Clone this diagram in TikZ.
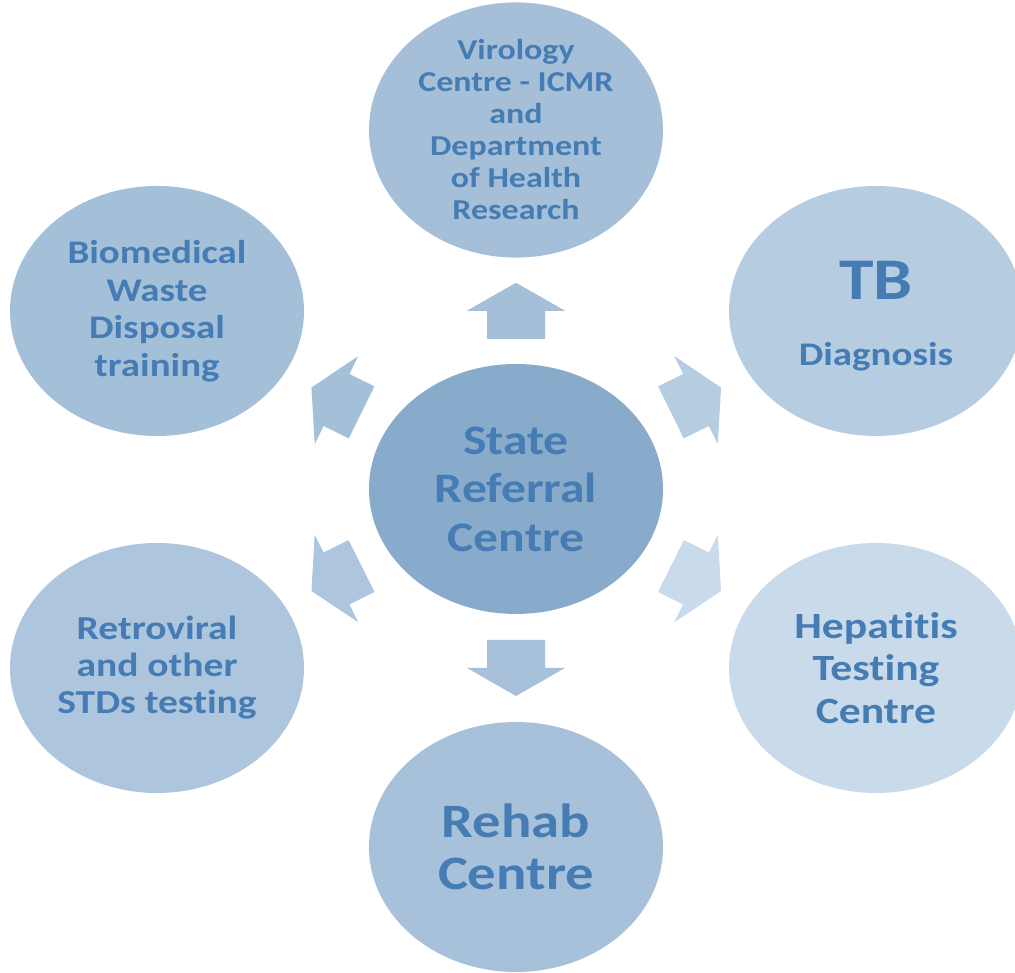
\documentclass[tikz,border=0pt]{standalone}
\usepackage{fontspec}
\setmainfont{Carlito}[FakeStretch=1.18, RawFeature={-liga;-clig;-calt;-dlig}]
\usetikzlibrary{shapes.geometric}

\definecolor{txtblue}{RGB}{70,124,180}
\definecolor{hubblue}{RGB}{136,170,203}
\definecolor{virblue}{RGB}{165,191,216}
\definecolor{tbblue}{RGB}{182,204,225}
\definecolor{hepblue}{RGB}{201,218,234}
\definecolor{rehabblue}{RGB}{168,193,218}
\definecolor{retroblue}{RGB}{173,198,221}
\definecolor{bioblue}{RGB}{164,191,216}

\tikzset{
  bubble/.style={ellipse, minimum width=294pt, minimum height=250pt, inner sep=0pt,
    text=txtblue, align=center},
  blockarr/.pic={\fill (-28,-29) -- (0,-29) -- (0,-49) -- (28,0) -- (0,49) -- (0,29) -- (-28,29) -- cycle;}
}

\begin{document}
\begin{tikzpicture}[x=1pt, y=1pt]
    \clip (0,0) rectangle (1015,973);
    \useasboundingbox (0,0) rectangle (1015,973);

    \node[bubble, fill=hubblue, font=\bfseries\fontsize{42}{48.5}\selectfont] (hub) at (516,484) {State\\Referral\\Centre};
    \node[bubble, fill=virblue, font=\bfseries\fontsize{28.8}{32}\selectfont] (virology) at (516,843) {Virology\\Centre - ICMR\\and\\Department\\of Health\\Research};
    \node[bubble, fill=tbblue, font=\bfseries\fontsize{33}{38}\selectfont] (tb) at (876,662) {{\fontsize{59}{59}\selectfont\rule{0pt}{48pt}TB}\\[28pt]Diagnosis};
    \node[bubble, fill=hepblue, font=\bfseries\fontsize{37}{42.5}\selectfont] (hepatitis) at (876,305) {Hepat\kern0pt it\kern0pt is\\Test\kern0pt ing\\Centre};
    \node[bubble, fill=rehabblue, font=\bfseries\fontsize{48}{52}\selectfont] (rehab) at (516,126) {Rehab\\Centre};
    \node[bubble, fill=retroblue, font=\bfseries\fontsize{33.5}{37}\selectfont] (retroviral) at (157,305) {Retroviral\\and other\\STDs test\kern0pt ing};
    \node[bubble, fill=bioblue, font=\bfseries\fontsize{33}{37.5}\selectfont] (biowaste) at (157,662) {Biomedical\\Waste\\Disposal\\training};

    \foreach \t/\c in {virology/virblue, tb/tbblue, hepatitis/hepblue, rehab/rehabblue, retroviral/retroblue, biowaste/bioblue}
        \path (hub) -- (\t) pic[midway, sloped, allow upside down, color=\c] {blockarr};

\end{tikzpicture}
\end{document}
